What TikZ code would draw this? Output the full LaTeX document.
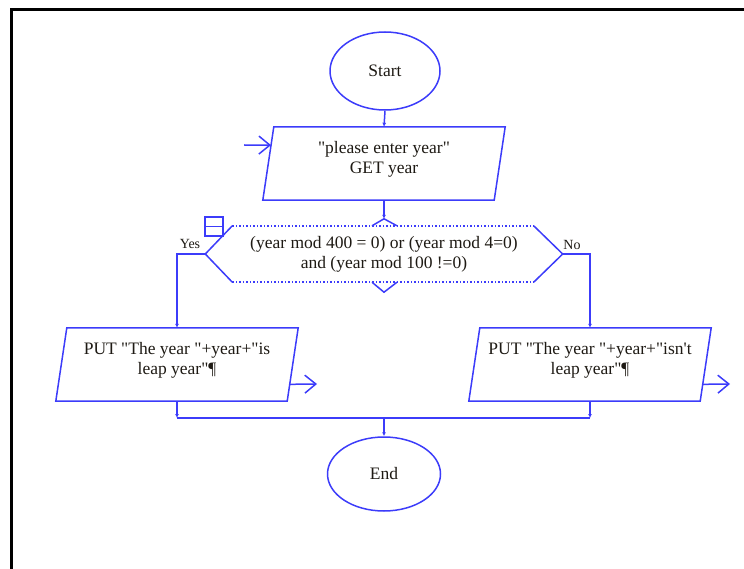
\documentclass[tikz,border=0pt]{standalone}
\usepackage{fontspec}
\setmainfont{Liberation Serif}
\setmonofont{Liberation Serif}
\usetikzlibrary{shapes.geometric,arrows.meta,calc}
\definecolor{fb}{RGB}{60,60,250}
\definecolor{tx}{RGB}{30,26,20}
\newcommand\qq{{\ttfamily\char34}}
\newcommand\ap{{\ttfamily\char39}}
\begin{document}
\begin{tikzpicture}[x=1pt,y=-1pt,
  ln/.style={draw=fb,line width=1.5pt},
  tip/.style={ln,-{Latex[length=4pt,width=4pt]}},
  barb/.style={ln,-{Straight Barb[length=11pt,width=18pt,line width=1.5pt]}},
  term/.style={ellipse,ln,fill=white,inner sep=0pt},
  pbox/.style={rectangle,minimum width=231pt,minimum height=73pt,inner sep=0pt},
  ptxt/.style={text=tx,align=center,font=\fontsize{17.5}{20}\selectfont,inner sep=0pt},
  lab/.style={text=tx,font=\fontsize{14}{16}\selectfont,inner sep=0pt}]
\useasboundingbox (0,0) rectangle (744,569);
% frame
\draw[line width=3pt,black] (11,569) -- (11,10) -- (744,10);
% start
\node[term,minimum width=110pt,minimum height=78pt] (start) at (385,71) {};
\node[ptxt] (startT) at (start.center) {Start};
% input
\node[pbox] (inp) at (384,163.5) {};
\draw[ln] ($(inp.north west)+(5.5,0)$) coordinate (inTL) -- ($(inp.north east)+(5.5,0)$)
  -- ($(inp.south east)+(-5.5,0)$) -- ($(inp.south west)+(-5.5,0)$) coordinate (inBL) -- cycle;
\node[ptxt] (inpT) at (384,159) {\qq please enter year\qq\\GET year};
\coordinate (inE) at (244,145);
\draw[barb] (inE) -- ($(inTL)!0.25!(inBL)$);
\draw[tip] (start.south) -- (inp.north);
% decision
\node[ptxt,minimum width=357pt,minimum height=56pt] (dec) at (384,254)
  {(year mod 400 = 0) or (year mod 4=0)\\and (year mod 100 !=0)};
\coordinate (dTL) at ($(dec.north west)+(27,0)$);
\coordinate (dBL) at ($(dec.south west)+(27,0)$);
\coordinate (dTR) at ($(dec.north east)+(-29,0)$);
\coordinate (dBR) at ($(dec.south east)+(-29,0)$);
\coordinate (decTop) at ($(dec.north)+(0,-7)$);
\coordinate (decBot) at ($(dec.south)+(0,10)$);
\draw[ln] (dTL) -- (dec.west) -- (dBL);
\draw[ln] (dTR) -- (dec.east) -- (dBR);
\draw[ln,dotted] (dTL) -- (dTR);
\draw[ln,dotted] (dBL) -- (dBR);
\draw[ln] ($(dec.north)+(-12,0)$) -- (decTop) -- ($(dec.north)+(13,0)$);
\draw[ln] ($(dec.south)+(-12,0)$) -- (decBot) -- ($(dec.south)+(13,0)$);
\draw[tip] (inp.south) -- (decTop);
\node[ln,minimum width=18pt,minimum height=19pt,inner sep=0pt] (icon) at (214,226.5) {};
\draw[ln] (icon.west) -- (icon.east);
\node[lab] (yes) at (190,244) {Yes};
\node[lab] (no) at (572,245) {No};
% outputs
\node[pbox] (lp) at (177,364.5) {};
\draw[ln] ($(lp.north west)+(5.5,0)$) -- ($(lp.north east)+(5.5,0)$) coordinate (lpTR)
  -- ($(lp.south east)+(-5.5,0)$) coordinate (lpBR) -- ($(lp.south west)+(-5.5,0)$) -- cycle;
\node[ptxt] (lpT) at (177,360) {PUT \qq The year \qq+year+\qq is\\leap year\qq¶};
\node[pbox] (rp) at (590,364.5) {};
\draw[ln] ($(rp.north west)+(5.5,0)$) -- ($(rp.north east)+(5.5,0)$) coordinate (rpTR)
  -- ($(rp.south east)+(-5.5,0)$) coordinate (rpBR) -- ($(rp.south west)+(-5.5,0)$) -- cycle;
\node[ptxt] (rpT) at (590,360) {PUT \qq The year \qq+year+\qq isn\ap t\\leap year\qq¶};
\draw[tip] (dec.west) -| (lp.north);
\draw[tip] (dec.east) -| (rp.north);
\coordinate (lpO) at (317,384);
\coordinate (rpO) at (730,384);
\draw[barb] ($(lpBR)!0.23!(lpTR)$) -- (lpO);
\draw[barb] ($(rpBR)!0.23!(rpTR)$) -- (rpO);
% merge
\coordinate (mL) at (177,418);
\coordinate (mR) at (590,418);
\coordinate (mC) at (384,418);
\draw[tip] (lp.south) -- (mL);
\draw[tip] (rp.south) -- (mR);
\draw[ln] (mL) -- (mR);
% end
\node[term,minimum width=113pt,minimum height=74pt] (end) at (384,474) {};
\node[ptxt] (endT) at (end.center) {End};
\draw[tip] (mC) -- (end.north);
\end{tikzpicture}
\end{document}
